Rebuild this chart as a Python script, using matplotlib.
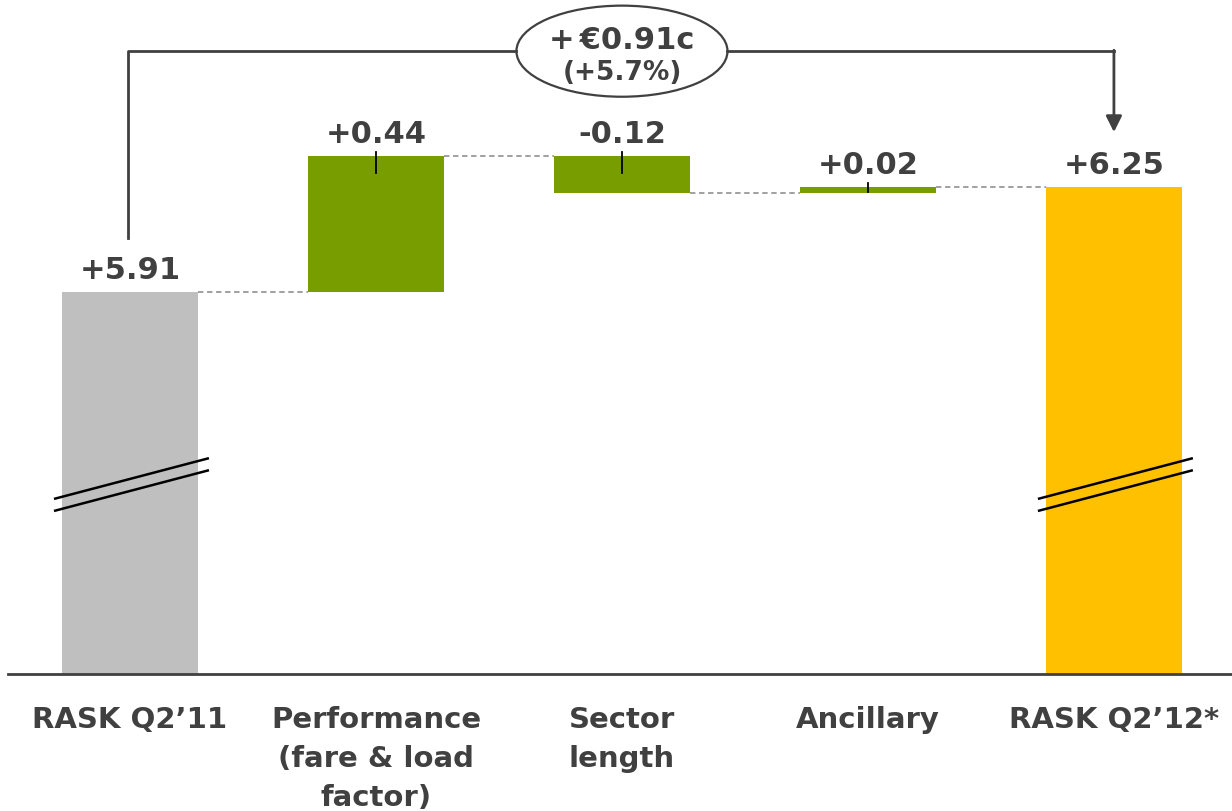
import numpy as np
import matplotlib
matplotlib.use("Agg")
import matplotlib.pyplot as plt
from matplotlib.patches import Ellipse

# RASK bridge, euro cents
categories = ["RASK Q2\u201911", "Performance\n(fare & load\nfactor)", "Sector\nlength",
              "Ancillary", "RASK Q2\u201912*"]
start_value = 5.91
deltas = [0.44, -0.12, 0.02]
end_value = 6.25
value_labels = ["+5.91", "+0.44", "-0.12", "+0.02", "+6.25"]
change_label = "+\u2006\u20ac0.91c"
change_pct = "(+5.7%)"

text_col = "#404040"
grey = "#BFBFBF"
green = "#779D00"
yellow = "#FFC000"

y_floor = 4.673   # axis is broken, bars start here
y_ceil = 6.859
bar_w = 0.55

fig = plt.figure(figsize=(12.32, 8.12), dpi=100)
ax = fig.add_axes([8 / 1232, 137 / 812, 1 - 8 / 1232, 675 / 812])
ax.set_xlim(-0.496, 4.48)
ax.set_ylim(y_floor, y_ceil)

x = np.arange(len(categories))

# running levels for the waterfall
levels = [start_value]
for d in deltas:
    levels.append(levels[-1] + d)

# total bars
ax.bar(x[0], start_value - y_floor, bottom=y_floor, width=bar_w, color=grey)
ax.bar(x[-1], end_value - y_floor, bottom=y_floor, width=bar_w, color=yellow)

# floating delta bars
for i, d in enumerate(deltas):
    lo = min(levels[i], levels[i + 1])
    ax.bar(x[i + 1], abs(d), bottom=lo, width=bar_w, color=green)

# dashed connectors between bars
for i in range(len(categories) - 1):
    lvl = levels[i] if i < len(levels) else levels[-1]
    ax.plot([x[i] + bar_w / 2, x[i + 1] - bar_w / 2], [lvl, lvl],
            color="#999999", lw=1.3, ls=(0, (3, 2)))

# value labels above bars
tops = [start_value] + [max(levels[i], levels[i + 1]) for i in range(len(deltas))] + [end_value]
for i, (t, lab) in enumerate(zip(tops, value_labels)):
    ax.annotate(lab, (x[i], t), xytext=(0, 10), textcoords="offset points",
                ha="center", va="baseline", fontsize=22, fontweight="bold", color=text_col)

# short leader ticks on the delta bars
for i in range(len(deltas)):
    t = tops[i + 1]
    b = min(levels[i], levels[i + 1])
    ax.plot([x[i + 1], x[i + 1]], [t + 0.012, max(t - 0.055, b + 0.004)], color="black", lw=1.3)

# axis break marks on the total bars
for xi in (x[0], x[-1]):
    for dy in (0.0, -0.039):
        ax.plot([xi - 0.309, xi + 0.321], [5.240 + dy, 5.372 + dy], color="black", lw=1.8,
                solid_capstyle="butt")

# overall change bracket with bubble
bracket_y = 6.69
ell_w, ell_h = 0.858, 0.295
ax.plot([x[0] - 0.008, x[0] - 0.008, 2 - ell_w / 2], [start_value + 0.175, bracket_y, bracket_y],
        color=text_col, lw=2)
ax.plot([2 + ell_w / 2, x[-1]], [bracket_y, bracket_y], color=text_col, lw=2)
ax.annotate("", xy=(x[-1], end_value + 0.178), xytext=(x[-1], bracket_y + 0.003),
            arrowprops=dict(arrowstyle="-|>", color=text_col, lw=2, mutation_scale=24,
                            shrinkA=0, shrinkB=0))
ax.add_patch(Ellipse((2, bracket_y), ell_w, ell_h, facecolor="white", edgecolor=text_col, lw=1.6))
ax.text(2, bracket_y + 0.01, change_label, ha="center", va="baseline", fontsize=22,
        fontweight="bold", color=text_col)
ax.text(2, bracket_y - 0.09, change_pct, ha="center", va="baseline", fontsize=19,
        fontweight="bold", color=text_col)

# axes styling
for side in ("left", "right", "top"):
    ax.spines[side].set_visible(False)
ax.spines["bottom"].set_color(text_col)
ax.spines["bottom"].set_linewidth(2)
ax.set_yticks([])
ax.set_xticks(x)
ax.set_xticklabels(categories, fontsize=21, fontweight="bold", color=text_col, linespacing=1.5)
ax.tick_params(axis="x", length=0, pad=22)

fig.savefig("out.png", dpi=100)
